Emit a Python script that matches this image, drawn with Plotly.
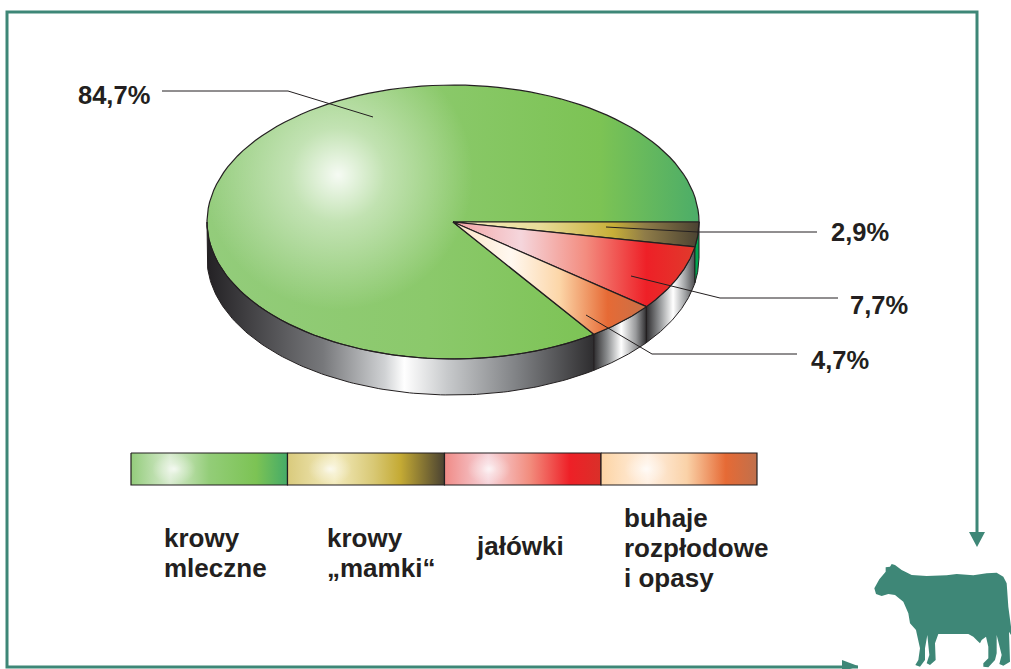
import numpy as np
import plotly.graph_objects as go

# ---- data
categories = ["krowy mleczne", "krowy „mamki“", "jałówki", "buhaje rozpłodowe i opasy"]
values = [84.7, 2.9, 7.7, 4.7]
value_labels = ["84,7%", "2,9%", "7,7%", "4,7%"]
legend_lines = [["krowy", "mleczne"], ["krowy", "„mamki“"], ["jałówki"], ["buhaje", "rozpłodowe", "i opasy"]]

# ---- styles and geometry
CX, CY, RX, RY, DEPTH = 453, 222, 246, 137, 36
INK = "#231f20"
FRAME = "#3e8777"
FONT = "Liberation Sans"
top_scales = {
    0: [[0, "#93cc7b"], [0.45, "#8bc96b"], [0.8, "#7cc354"], [1, "#4cad68"]],
    1: [[0, "#f6efc0"], [0.35, "#e8dc9a"], [0.65, "#c8af38"], [0.78, "#8f7c48"], [1, "#4a4232"]],
    2: [[0, "#f2a3a3"], [0.28, "#f5d6dc"], [0.55, "#f38c7f"], [0.8, "#ee2027"], [1, "#e03a2c"]],
    3: [[0, "#fde3c4"], [0.3, "#fff8f0"], [0.55, "#fcd6a8"], [0.8, "#e66a35"], [1, "#c87048"]],
}
wall_scales = {
    0: [[0, "#232124"], [0.3, "#77787b"], [0.46, "#d0d2d4"], [0.51, "#ffffff"], [0.62, "#c8cacc"], [0.8, "#808285"], [1, "#2e2d2f"]],
    1: [[0, "#00a651"], [1, "#00a651"]],
    2: [[0, "#2e2d2f"], [0.25, "#8a8c8e"], [0.55, "#ffffff"], [0.8, "#a0a2a4"], [1, "#4c4c4e"]],
    3: [[0, "#2e2d2f"], [0.25, "#8a8c8e"], [0.52, "#ffffff"], [0.8, "#98999b"], [1, "#2e2d2f"]],
}
legend_scales = [
    [[0, "#93cc7b"], [0.25, "#d8ebcf"], [0.5, "#93cd78"], [0.8, "#7cc354"], [1, "#45ab68"]],
    [[0, "#d9ca7c"], [0.3, "#f3ebbd"], [0.55, "#d8c874"], [0.72, "#c4aa34"], [1, "#4a4232"]],
    [[0, "#f08a86"], [0.28, "#f6d4da"], [0.55, "#f28b7c"], [0.8, "#ee2027"], [1, "#d93029"]],
    [[0, "#fdd4a4"], [0.3, "#fff0e2"], [0.55, "#fad2a8"], [0.8, "#e66a35"], [1, "#c0704c"]],
]
legend_x = [131, 287.5, 444.5, 601, 757]
legend_y = [453, 485]
legend_hi = [174, 330, 489, 646]
legend_text_x = [162, 325, 474, 622]
legend_text_y = [[538, 568], [538, 568], [546], [518, 548, 578]]
label_pos = [(76, 95), (829, 232), (848, 305), (809, 360)]
leaders = [
    [(162, 91), (288, 91), (373, 117)],
    [(606, 227), (698, 232), (817, 232)],
    [(631, 276), (720, 298), (838, 298)],
    [(586, 315), (652, 354), (797, 354)],
]
frame_path = [(858, 667), (7, 667), (7, 12), (977, 12), (977, 535)]
cow_zoom = [(103,205),(118,178),(137,155),(137,142),(150,140),(155,132),(165,135),(185,150),(215,165),(260,168),
    (320,166),(350,162),(400,166),(440,160),(470,158),(490,170),(500,190),(505,260),(513,320),(513,345),(507,335),
    (510,400),(510,425),(490,437),(478,432),(485,405),(470,345),(470,400),(465,420),(445,442),(430,440),(430,430),
    (445,415),(445,380),(438,350),(425,360),(420,370),(412,362),(400,350),(385,342),(295,342),(285,370),(287,420),(270,435),
    (260,430),(268,405),(262,345),(255,385),(255,420),(240,440),(226,435),(235,420),(240,385),(230,340),(228,330),
    (210,310),(205,280),(190,245),(165,225),(145,222),(125,228),(108,222)]

fig = go.Figure()


def arc(t0, t1, dy=0, n=120):
    t = np.linspace(t0, t1, n)
    return CX + RX * np.cos(t), CY + dy + RY * np.sin(t)


def poly(x, y, scale=None, color=None, line=INK, lw=1.0, kind="horizontal"):
    kw = dict(x=list(x), y=list(y), mode="lines", fill="toself", hoverinfo="skip", showlegend=False,
              line=dict(color=line if line else "rgba(0,0,0,0)", width=lw if line else 0))
    if scale:
        kw["fillgradient"] = dict(type=kind, colorscale=scale)
    else:
        kw["fillcolor"] = color
    fig.add_trace(go.Scatter(**kw))


def glow(x0, y0, rx, ry, alpha):
    t = np.linspace(0, 2 * np.pi, 90)
    scale = [[0, f"rgba(255,255,255,{alpha})"], [0.35, f"rgba(255,255,255,{alpha*0.5})"], [1, "rgba(255,255,255,0)"]]
    poly(x0 + rx * np.cos(t), y0 + ry * np.sin(t), scale=scale, line=None, kind="radial")


# angles: small slices run clockwise from three o'clock, the large one closes the ring
order = [1, 2, 3, 0]
edges = np.concatenate([[0], np.cumsum([values[i] for i in order])]) / sum(values) * 2 * np.pi
span = {c: (edges[k], edges[k + 1]) for k, c in enumerate(order)}

# large slice + highlight + mask that trims the highlight to the disc
x, y = arc(*span[0])
poly([CX, *x, CX], [CY, *y, CY], scale=top_scales[0], line=None)
glow(338, 175, 135, 135, 0.92)
hx, hy = arc(2 * np.pi, 0, n=240)
mx0, mx1, my0, my1 = 195, 710, 35, 365
poly([mx0, mx1, mx1, mx0, mx0, None, *hx, hx[0]], [my0, my0, my1, my1, my0, None, *hy, hy[0]], color="#ffffff", line=None)

# wall of the disc
for c in [0, 3, 2, 1]:
    t0, t1 = span[c]
    t0, t1 = max(t0, 0), min(t1, np.pi)
    x, y = arc(t0, t1)
    xb, yb = arc(t1, t0, dy=DEPTH)
    poly([*x, *xb, x[0]], [*y, *yb, y[0]], scale=wall_scales[c], lw=1.0)
# top slices
for c in [0, 1, 2, 3]:
    x, y = arc(*span[c])
    if c == 0:
        poly([CX, *x, CX], [CY, *y, CY], color="rgba(0,0,0,0)", lw=1.2)
    else:
        poly([CX, *x, CX], [CY, *y, CY], scale=top_scales[c], lw=1.2)

# leaders
for pts in leaders:
    fig.add_trace(go.Scatter(x=[p[0] for p in pts], y=[p[1] for p in pts], mode="lines", hoverinfo="skip",
                             showlegend=False, line=dict(color=INK, width=1)))

# colour key
for i in range(4):
    a, b = legend_x[i], legend_x[i + 1]
    poly([a, b, b, a, a], [legend_y[0], legend_y[0], legend_y[1], legend_y[1], legend_y[0]], scale=legend_scales[i], lw=1.2)
    glow(legend_hi[i], 469, 22, 15.5, 0.75)

# frame and arrows
fig.add_trace(go.Scatter(x=[p[0] for p in frame_path], y=[p[1] for p in frame_path], mode="lines", hoverinfo="skip",
                         showlegend=False, line=dict(color=FRAME, width=3)))
poly([969, 985, 977, 969], [532, 532, 547, 532], color=FRAME, line=None)
poly([842, 858, 842, 842], [660, 666, 672, 660], color=FRAME, line=None)
poly([840 + p[0] / 3 for p in cow_zoom], [520 + p[1] / 3 for p in cow_zoom], color=FRAME, line=None)

ann = []
for s, (px, py) in zip(value_labels, label_pos):
    ann.append(dict(x=px, y=py, text=f"<b>{s}</b>", xanchor="left", yanchor="middle", showarrow=False,
                    font=dict(family=FONT, size=25.5, color=INK)))
for lines, tx, tys in zip(legend_lines, legend_text_x, legend_text_y):
    for s, ty in zip(lines, tys):
        ann.append(dict(x=tx, y=ty, text=f"<b>{s}</b>", xanchor="left", yanchor="middle", showarrow=False,
                        font=dict(family=FONT, size=26, color=INK)))

fig.update_layout(
    width=1011, height=669, margin=dict(l=0, r=0, t=0, b=0),
    paper_bgcolor="white", plot_bgcolor="white", showlegend=False, annotations=ann,
    xaxis=dict(range=[0, 1011], visible=False, fixedrange=True),
    yaxis=dict(range=[669, 0], visible=False, fixedrange=True),
)
fig.write_html("out.html", config=dict(displayModeBar=False),
               post_script="document.body.style.margin='0';document.documentElement.style.overflow='hidden';")
